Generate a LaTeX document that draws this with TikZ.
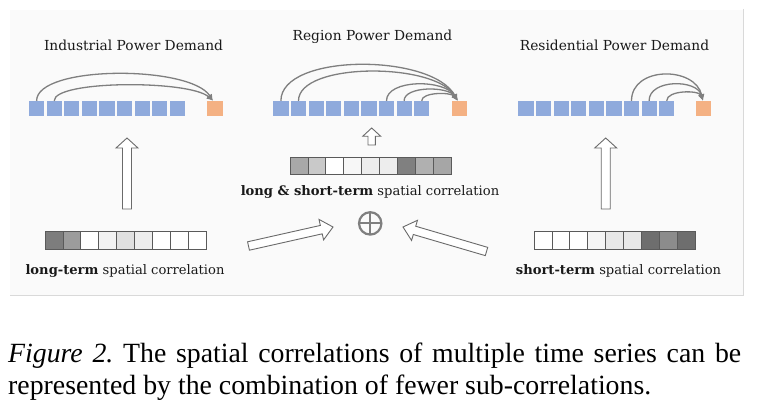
\documentclass[tikz,border=0pt]{standalone}
\usepackage{fontspec}
\newfontfamily\capfont{Liberation Serif}
\newfontfamily\figfont{DejaVu Serif}
\usetikzlibrary{calc,arrows.meta}
\definecolor{sqblue}{HTML}{8FAADC}
\definecolor{sqorange}{HTML}{F4B183}
\definecolor{arcgray}{HTML}{7F7F7F}
\definecolor{panelbg}{HTML}{FAFAFA}
\definecolor{panelline}{HTML}{D9D9D9}
\definecolor{cellline}{HTML}{5A5A5A}
\definecolor{hollowline}{HTML}{6A6A6A}
\tikzset{
  sq/.style={minimum width=15.2pt, minimum height=15.2pt, inner sep=0pt, outer sep=0pt, fill=sqblue},
  osq/.style={sq, fill=sqorange},
  cell/.style={draw=cellline, line width=0.7pt, minimum width=17.9pt, minimum height=17.3pt, inner sep=0pt, outer sep=0pt},
  arcline/.style={draw=arcgray, line width=1.3pt, -{Latex[length=6.5pt,width=6pt]}},
  label/.style={font=\figfont\fontsize{13.1}{16}\selectfont, inner sep=0pt, anchor=base, text=black!90},
  title/.style={label, font=\figfont\fontsize{13.8}{16}\selectfont},
  harrow/.style={draw=hollowline, line width=0.9pt, fill=white, line join=miter},
  capline/.style={font=\capfont\fontsize{27.8}{32}\selectfont, inner sep=0pt, anchor=base west},
}
% hollow block arrow from tail #1 to tip #2; #3 shaft half width, #4 head half width, #5 head length
\newcommand{\hollowarrow}[5]{%
  \coordinate (#1-base) at ($(#2)!#5!(#1)$);
  \draw[harrow] ($(#1)!#3!90:(#2)$) -- ($(#1-base)!#3!90:(#2)$) -- ($(#1-base)!#4!90:(#2)$) -- (#2)
     -- ($(#1-base)!#4!-90:(#2)$) -- ($(#1-base)!#3!-90:(#2)$) -- ($(#1)!#3!-90:(#2)$) -- cycle;}
\begin{document}
\frenchspacing
\begin{tikzpicture}[x=1pt,y=-1pt]
\useasboundingbox (0,0) rectangle (760,419);
% panel
\fill[panelbg] (10,10) rectangle (743,296);
\draw[panelline, line width=1pt] (743,9) -- (743,296) -- (10,296);

% titles
\node[title] (tind) at (133.5,50.3) {Industrial Power Demand};
\node[title] (treg) at (372.5,40.8) {Region Power Demand};
\node[title] (tres) at (614.5,50.3) {Residential Power Demand};

% square rows
\foreach \k in {1,...,9} {
  \node[sq] (i\k) at ({29+7.6+(\k-1)*17.6},108.4) {};
  \node[sq] (r\k) at ({273.3+7.6+(\k-1)*17.6},108.4) {};
  \node[sq] (s\k) at ({518.3+7.6+(\k-1)*17.6},108.4) {};
}
\node[osq] (io) at (215,108.4) {};
\node[osq] (ro) at (459.2,108.4) {};
\node[osq] (so) at (703.5,108.4) {};

% arcs: industrial
\draw[arcline] (i1.north) .. controls (36.6,65) and (190,65) .. ([xshift=-2pt]io.north);
\draw[arcline] (i2.north) .. controls (54.2,80) and (190,80) .. ([xshift=-2pt]io.north);
% arcs: region
\draw[arcline] (r1.north) .. controls (280.9,53) and (432,53) .. ([xshift=-1.5pt]ro.north);
\draw[arcline] (r2.north) .. controls (298.5,62) and (435,62) .. ([xshift=-1.5pt]ro.north);
\draw[arcline] (r7.north) .. controls (386.5,79) and (445,79) .. ([xshift=-1.5pt]ro.north);
\draw[arcline] (r8.north) .. controls (404.1,86) and (448,86) .. ([xshift=-1.5pt]ro.north);
\draw[arcline] (r9.north) .. controls (421.7,92) and (451,92) .. ([xshift=-1.5pt]ro.north);
% arcs: residential
\draw[arcline] (s7.north) .. controls (631.5,66) and (695,66) .. ([xshift=-0.5pt]so.north);
\draw[arcline] (s8.north) .. controls (649.1,79) and (697,79) .. ([xshift=-0.5pt]so.north);
\draw[arcline] (s9.north) .. controls (666.7,90) and (699,90) .. ([xshift=-0.5pt]so.north);

% correlation bars
\foreach \c [count=\k] in {black!51,black!39,white,black!5,black!12,black!7,white,white,white}
  \node[cell, fill=\c] (L\k) at ({45+8.95+(\k-1)*17.9},240.5) {};
\foreach \c [count=\k] in {black!34,black!21,white,black!3,black!7,black!7,black!50,black!31,black!35}
  \node[cell, fill=\c] (M\k) at ({290+8.95+(\k-1)*17.9},165.8) {};
\foreach \c [count=\k] in {white,white,white,black!4,black!9,black!9,black!57,black!45,black!57}
  \node[cell, fill=\c] (S\k) at ({534+8.95+(\k-1)*17.9},240.5) {};

% bar labels
\node[label] (lL) at (125,274.5) {\textbf{long-term} spatial correlation};
\node[label] (lM) at (370,195.3) {\textbf{long \& short-term} spatial correlation};
\node[label] (lS) at (618.5,275) {\textbf{short-term} spatial correlation};

% oplus
\node[circle, draw=arcgray, line width=2.2pt, minimum size=22.4pt, inner sep=0pt, outer sep=0pt] (plus) at (370.2,223.4) {};
\draw[arcgray, line width=2.2pt] (plus.north) -- (plus.south);
\draw[arcgray, line width=2.2pt] (plus.west) -- (plus.east);

% hollow arrows
\coordinate (ia-tail) at (127,209);   \coordinate (ia-tip) at (127,138);
\coordinate (sa-tail) at (605.7,209); \coordinate (sa-tip) at (605.7,138);
\coordinate (ra-tail) at (371.7,145); \coordinate (ra-tip) at (371.7,128);
\coordinate (la-tail) at (248.5,246); \coordinate (la-tip) at (333,227);
\coordinate (ka-tail) at (486.5,251.5); \coordinate (ka-tip) at (403,227);
\hollowarrow{ia-tail}{ia-tip}{4.5pt}{11pt}{10pt}
\hollowarrow{sa-tail}{sa-tip}{4.5pt}{11pt}{10pt}
\hollowarrow{ra-tail}{ra-tip}{3.7pt}{9pt}{8.3pt}
\hollowarrow{la-tail}{la-tip}{4.3pt}{10.5pt}{12pt}
\hollowarrow{ka-tail}{ka-tip}{4.3pt}{10.5pt}{12pt}

% caption
\node[capline] (cap1) at (8,362.5) {\makebox[733pt][s]{\textit{Figure 2.} The spatial correlations of multiple time series can be}};
\node[capline] (cap2) at (8,394.5) {represented by the combination of fewer sub-correlations.};
\end{tikzpicture}
\end{document}
